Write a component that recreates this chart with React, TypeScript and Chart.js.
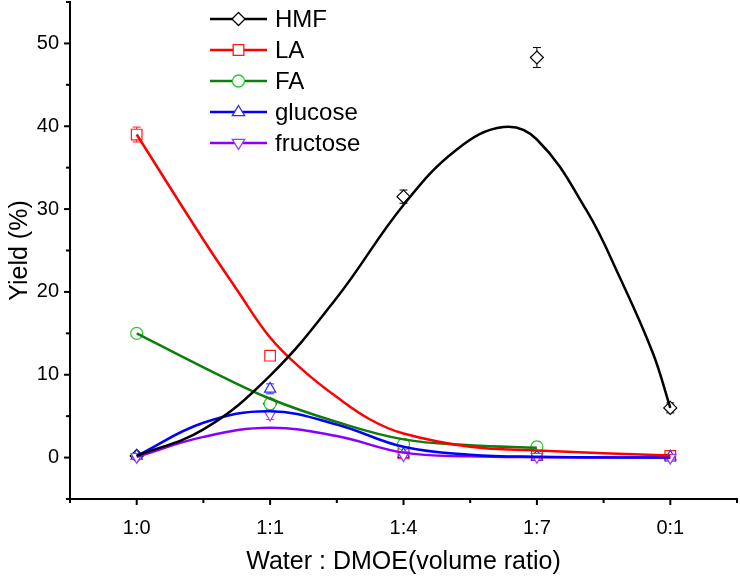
import React, { useEffect, useRef } from 'react';
import { Chart, registerables } from 'chart.js';
Chart.register(...registerables);

// ---- data ----
const categories = ['1:0', '1:1', '1:4', '1:7', '0:1'];
const yTickLabels = [0, 10, 20, 30, 40, 50];

const hmfYield = [0.2, 6.5, 31.5, 48.3, 6.0];
const hmfErr = [0.3, 0.4, 0.8, 1.2, 0.6];
const laYield = [39.0, 12.3, 0.5, 0.3, 0.2];
const laErr = [0.9, 0.3, 0.2, 0.2, 0.2];
const faYield = [15.0, 6.5, 1.6, 1.3, null];
const faErr = [0.3, 0.6, 0.6, 0.6, null];
const glucoseYield = [0.2, 8.3, 0.4, 0.1, 0.1];
const glucoseErr = [0.3, 0.6, 0.4, 0.3, 0.3];
const fructoseYield = [0.1, 5.2, 0.3, 0.1, 0.0];
const fructoseErr = [0.3, 0.6, 0.4, 0.3, 0.3];

// fitted curves (x in category-index units)
const hmfFitX = [0, 0.5, 1, 1.5, 2, 2.4, 2.75, 3, 3.37, 3.62, 3.87, 4];
const hmfFitY = [0.2, 3.4, 9.9, 19.3, 30.5, 37.2, 39.9, 38.4, 29.9, 21.8, 12.6, 6.0];
const laFitX = [0, 0.5, 0.75, 1, 1.25, 1.5, 1.75, 2, 2.5, 3, 4];
const laFitY = [39.0, 26.3, 20.3, 14.5, 10.5, 7.3, 4.6, 2.9, 1.3, 0.85, 0.25];
const faFitX = [0, 0.5, 1, 1.5, 2, 2.5, 3];
const faFitY = [15.0, 10.9, 7.1, 4.3, 2.2, 1.5, 1.2];
const glucoseFitX = [0, 0.5, 1, 1.5, 2, 2.5, 3, 4];
const glucoseFitY = [0.2, 4.2, 5.6, 4.0, 1.3, 0.35, 0.1, 0.0];
const fructoseFitX = [0, 0.5, 1, 1.5, 2, 2.5, 3, 4];
const fructoseFitY = [0.1, 2.5, 3.6, 2.6, 0.6, 0.15, 0.05, 0.0];

const seriesNames = ['HMF', 'LA', 'FA', 'glucose', 'fructose'];

// ---- styles ----
const FONT = '"Liberation Sans", Arial, sans-serif';
const lineColors = ['#000000', '#ff0000', '#107c10', '#0000ff', '#8a00ff'];
const markerColors = ['#000000', '#ff1a1a', '#22cc22', '#2a2aff', '#9d3cff'];
const markerShapes = ['rectRot', 'rect', 'circle', 'triangle', 'triangle'];
const markerRot = [0, 0, 0, 0, 180];
const markerRadius = [6.5, 7.5, 6, 6.5, 6.5];

const pts = (ys: (number | null)[]) => ys.map((y, i) => ({ x: i, y }));
const curve = (xs: number[], ys: number[]) => xs.map((x, i) => ({ x, y: ys[i] }));

function drawShape(ctx: CanvasRenderingContext2D, shape: string, rot: number, x: number, y: number, r: number) {
  ctx.beginPath();
  if (shape === 'circle') {
    ctx.arc(x, y, r, 0, Math.PI * 2);
  } else if (shape === 'rect') {
    const s = Math.SQRT1_2 * r;
    ctx.rect(x - s, y - s, 2 * s, 2 * s);
  } else if (shape === 'rectRot') {
    ctx.moveTo(x, y - r);
    ctx.lineTo(x + r, y);
    ctx.lineTo(x, y + r);
    ctx.lineTo(x - r, y);
    ctx.closePath();
  } else {
    const dir = rot === 180 ? -1 : 1;
    ctx.moveTo(x, y - dir * r);
    ctx.lineTo(x + r * 0.95, y + dir * r * 0.55);
    ctx.lineTo(x - r * 0.95, y + dir * r * 0.55);
    ctx.closePath();
  }
  ctx.fill();
  ctx.stroke();
}

const errorBarPlugin = {
  id: 'errorBars',
  beforeDatasetsDraw(chart: any) {
    const { ctx, scales } = chart;
    const xs = scales.x, ys = scales.y;
    chart.data.datasets.forEach((ds: any) => {
      if (!ds.errors) return;
      ctx.save();
      ctx.strokeStyle = ds.borderColor;
      ctx.lineWidth = 1;
      ds.data.forEach((p: any, i: number) => {
        const e = ds.errors[i];
        if (p.y === null || e === null || e === undefined) return;
        const px = xs.getPixelForValue(p.x);
        const top = ys.getPixelForValue(p.y + e);
        const bot = ys.getPixelForValue(p.y - e);
        ctx.beginPath();
        ctx.moveTo(px, top);
        ctx.lineTo(px, bot);
        ctx.moveTo(px - 4, top);
        ctx.lineTo(px + 4, top);
        ctx.moveTo(px - 4, bot);
        ctx.lineTo(px + 4, bot);
        ctx.stroke();
      });
      ctx.restore();
    });
  },
};

const ticksPlugin = {
  id: 'axisTicks',
  afterDraw(chart: any) {
    const { ctx, scales, chartArea } = chart;
    ctx.save();
    ctx.strokeStyle = '#000';
    ctx.lineWidth = 2;
    for (let v = -0.5; v <= 4.5001; v += 0.5) {
      const px = scales.x.getPixelForValue(v);
      const len = Math.abs(v - Math.round(v)) < 1e-6 ? 6 : 4;
      ctx.beginPath();
      ctx.moveTo(px, chartArea.bottom);
      ctx.lineTo(px, chartArea.bottom + len);
      ctx.stroke();
    }
    for (let v = -5; v <= 55; v += 5) {
      const py = scales.y.getPixelForValue(v);
      const len = v % 10 === 0 ? 6 : 4;
      ctx.beginPath();
      ctx.moveTo(chartArea.left, py);
      ctx.lineTo(chartArea.left - len, py);
      ctx.stroke();
    }
    ctx.restore();
  },
};

const legendPlugin = {
  id: 'innerLegend',
  afterDraw(chart: any) {
    const { ctx, chartArea } = chart;
    const x0 = chartArea.left + 140;
    const x1 = x0 + 57;
    const xm = (x0 + x1) / 2;
    ctx.save();
    seriesNames.forEach((name, k) => {
      const y = chartArea.top + 17 + k * 31;
      ctx.strokeStyle = lineColors[k];
      ctx.lineWidth = 2.5;
      ctx.beginPath();
      ctx.moveTo(x0, y);
      ctx.lineTo(x1, y);
      ctx.stroke();
      ctx.fillStyle = '#ffffff';
      ctx.strokeStyle = markerColors[k];
      ctx.lineWidth = 1.3;
      drawShape(ctx, markerShapes[k], markerRot[k], xm, y, markerRadius[k]);
      ctx.fillStyle = '#000';
      ctx.font = `24px ${FONT}`;
      ctx.textBaseline = 'middle';
      ctx.textAlign = 'left';
      ctx.fillText(name, x1 + 8, y + 1);
    });
    ctx.restore();
  },
};

export default function App() {
  const ref = useRef<HTMLCanvasElement | null>(null);
  useEffect(() => {
    if (!ref.current) return;
    const yields = [hmfYield, laYield, faYield, glucoseYield, fructoseYield];
    const errs = [hmfErr, laErr, faErr, glucoseErr, fructoseErr];
    const fits = [
      curve(hmfFitX, hmfFitY),
      curve(laFitX, laFitY),
      curve(faFitX, faFitY),
      curve(glucoseFitX, glucoseFitY),
      curve(fructoseFitX, fructoseFitY),
    ];
    const datasets: any[] = [];
    seriesNames.forEach((name, k) => {
      datasets.push({
        label: name + ' fit',
        data: fits[k],
        borderColor: lineColors[k],
        backgroundColor: lineColors[k],
        borderWidth: 2.5,
        pointRadius: 0,
        tension: 0.4,
        fill: false,
        showLine: true,
        clip: false,
        order: 0,
      });
    });
    seriesNames.forEach((name, k) => {
      datasets.push({
        label: name,
        data: pts(yields[k]),
        errors: errs[k],
        showLine: false,
        borderColor: markerColors[k],
        backgroundColor: '#ffffff',
        pointStyle: markerShapes[k],
        rotation: markerRot[k],
        pointRadius: markerRadius[k],
        pointBorderWidth: 1.2,
        clip: false,
        order: 10 - k,
      });
    });
    const chart = new Chart(ref.current, {
      type: 'line',
      data: { datasets },
      options: {
        animation: false,
        responsive: false,
        layout: { autoPadding: false, padding: { top: 2, right: 3, left: 0, bottom: 0 } },
        plugins: { legend: { display: false }, tooltip: { enabled: false } },
        scales: {
          x: {
            type: 'linear',
            min: -0.5,
            max: 4.5,
            grid: { display: false, drawTicks: false },
            border: { display: true, color: '#000', width: 2 },
            afterFit: (s: any) => { s.height = 78; s.paddingLeft = 0; s.paddingRight = 0; },
            ticks: {
              stepSize: 0.5,
              autoSkip: false,
              maxRotation: 0,
              padding: 17,
              color: '#000',
              font: { family: FONT, size: 20 },
              callback: (v: any) => {
                const n = Number(v);
                return Number.isInteger(n) && categories[n] !== undefined ? categories[n] : '';
              },
            },
            title: {
              display: true,
              text: 'Water : DMOE(volume ratio)',
              color: '#000',
              font: { family: FONT, size: 25 },
              padding: { top: 0, bottom: 0 },
            },
          },
          y: {
            type: 'linear',
            min: -5,
            max: 55,
            grid: { display: false, drawTicks: false },
            border: { display: true, color: '#000', width: 2 },
            afterFit: (s: any) => { s.width = 70; s.paddingTop = 0; s.paddingBottom = 0; },
            ticks: {
              stepSize: 5,
              autoSkip: false,
              padding: 11,
              color: '#000',
              font: { family: FONT, size: 20 },
              callback: (v: any) => (yTickLabels.includes(Number(v)) ? String(v) : ''),
            },
            title: {
              display: true,
              text: 'Yield (%)',
              color: '#000',
              font: { family: FONT, size: 25 },
              padding: { top: 5, bottom: 0 },
            },
          },
        },
      } as any,
      plugins: [errorBarPlugin, ticksPlugin, legendPlugin],
    });
    return () => chart.destroy();
  }, []);
  return (
    <div style={{ position: 'fixed', left: 0, top: 0, width: 740, height: 577, background: '#fff' }}>
      <canvas ref={ref} width={740} height={577} />
    </div>
  );
}
